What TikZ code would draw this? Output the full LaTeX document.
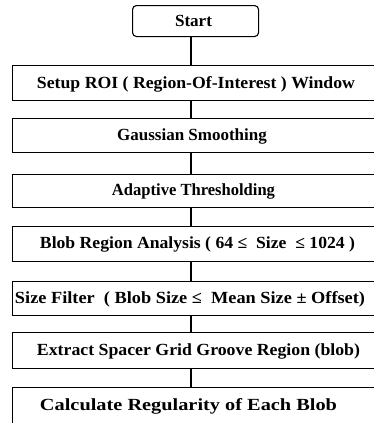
\documentclass[tikz,border=0pt]{standalone}
\usepackage{fontspec}
\setmainfont{Liberation Serif}
\usepackage{graphicx}
\newcommand{\fitw}[2]{\resizebox{#1pt}{\height}{#2}}
\begin{document}
\begin{tikzpicture}[x=1pt,y=-1pt,
  boxst/.style={draw,line width=1.1pt,rectangle,anchor=north west,minimum width=380pt,inner sep=0pt},
  startst/.style={draw,line width=1.1pt,rectangle,rounded corners=4pt,anchor=north west,minimum width=126pt,minimum height=31pt,inner sep=0pt},
  txt/.style={font=\fontsize{17}{19}\selectfont\bfseries,inner sep=0pt,anchor=center},
  conn/.style={line width=1.6pt}]
\useasboundingbox (0,0) rectangle (374,423);
\node[startst] (s) at (132,5) {};
\node[boxst,minimum height=35pt] (b1) at (12,65) {};
\node[boxst,minimum height=34pt] (b2) at (12,118) {};
\node[boxst,minimum height=33pt] (b3) at (12,174) {};
\node[boxst,minimum height=35pt] (b4) at (12,226) {};
\node[boxst,minimum height=34pt] (b5) at (12,281) {};
\node[boxst,minimum height=36pt] (b6) at (12,332) {};
\node[boxst,minimum height=50pt] (b7) at (12,387) {};
\coordinate (cx) at (191,0);
\node[txt] (t0) at (193.5,21) {\fitw{37}{Start}};
\node[txt] (t1) at (196,84) {\fitw{318}{Setup ROI ( Region-Of-Interest ) Window}};
\node[txt] (t2) at (192,136) {Gaussian Smoothing};
\node[txt] (t3) at (193.5,191) {\fitw{163}{Adaptive Thresholding}};
\node[txt] (t4) at (197.5,244) {\fitw{315}{Blob Region Analysis ( 64 ≤ \ Size \ ≤ 1024 )}};
\node[txt] (t5) at (190,299) {\fitw{350}{Size Filter \ ( Blob Size ≤ \ Mean Size ± Offset)}};
\node[txt] (t6) at (198.5,351) {\fitw{323}{Extract Spacer Grid Groove Region (blob)}};
\node[txt] (t7) at (188.5,406) {\fitw{297}{Calculate Regularity of Each Blob}};
\draw[conn] (s.south -| cx) -- (b1.north -| cx);
\draw[conn] (b1.south -| cx) -- (b2.north -| cx);
\draw[conn] (b2.south -| cx) -- (b3.north -| cx);
\draw[conn] (b3.south -| cx) -- (b4.north -| cx);
\draw[conn] (b4.south -| cx) -- (b5.north -| cx);
\draw[conn] (b5.south -| cx) -- (b6.north -| cx);
\draw[conn] (b6.south -| cx) -- (b7.north -| cx);
\end{tikzpicture}
\end{document}
